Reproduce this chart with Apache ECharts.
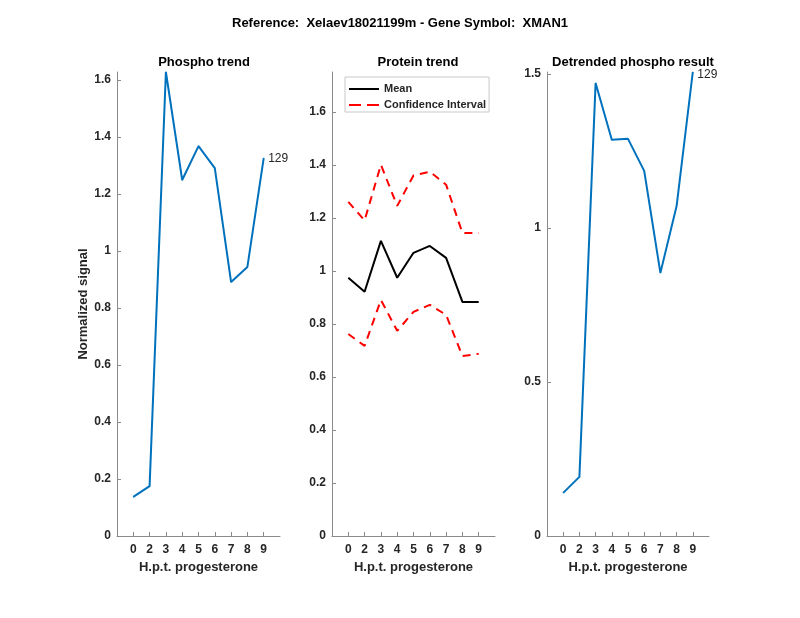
<!DOCTYPE html>
<html>
<head>
<meta charset="utf-8">
<script src="https://cdn.jsdelivr.net/npm/echarts@6/dist/echarts.min.js"></script>
<style>html,body{margin:0;padding:0;background:#fff;}#c{width:800px;height:618px;}</style>
</head>
<body>
<div id="c"></div>
<script>
// ---- data ----
const categories = ['0', '2', '3', '4', '5', '6', '7', '8', '9'];
const phospho = [0.137, 0.175, 1.628, 1.249, 1.368, 1.291, 0.891, 0.944, 1.326];
const proteinMean = [0.974, 0.921, 1.113, 0.974, 1.068, 1.094, 1.049, 0.883, 0.883];
const proteinUpper = [1.26, 1.19, 1.40, 1.245, 1.36, 1.374, 1.325, 1.143, 1.143];
const proteinLower = [0.762, 0.717, 0.89, 0.774, 0.845, 0.872, 0.834, 0.679, 0.687];
const detrended = [0.140, 0.192, 1.47, 1.286, 1.289, 1.185, 0.854, 1.071, 1.506];
const peptideLabel = '129';
const leftTicks = [0, 0.2, 0.4, 0.6, 0.8, 1, 1.2, 1.4, 1.6];
const midTicks = [0, 0.2, 0.4, 0.6, 0.8, 1, 1.2, 1.4, 1.6];
const rightTicks = [0, 0.5, 1, 1.5];
const mainTitle = 'Reference:  Xelaev18021199m - Gene Symbol:  XMAN1';
const panelTitles = ['Phospho trend', 'Protein trend', 'Detrended phospho result'];
const xName = 'H.p.t. progesterone';
const yName = 'Normalized signal';

const FONT = '"Liberation Sans", Arial, Helvetica, sans-serif';
const AXC = '#8a8a8a';
const TXC = '#262626';
const xPos = categories.map((c, i) => i + 1);

function toPts(arr, lastLabel, dy) {
  return arr.map((v, i) => {
    if (lastLabel && i === arr.length - 1) {
      return { value: [xPos[i], v], label: { show: true, position: 'right', distance: 4, offset: [0, dy || 0], formatter: lastLabel,
        fontFamily: FONT, fontSize: 12, color: TXC, fontWeight: 'normal' } };
    }
    return [xPos[i], v];
  });
}

const grids = [
  { left: 117, top: 72, width: 163, height: 464 },
  { left: 332, top: 72, width: 163, height: 464 },
  { left: 547, top: 72, width: 162, height: 464 }
].map(g => Object.assign({ containLabel: false, outerBoundsMode: 'none' }, g));

function xAxis(idx) {
  return {
    gridIndex: idx, type: 'value', min: 0, max: 10,
    name: xName, nameLocation: 'middle', nameGap: 25, nameMoveOverlap: false,
    nameTextStyle: { fontFamily: FONT, fontSize: 13, fontWeight: 'bold', color: TXC },
    axisLine: { show: true, lineStyle: { color: AXC, width: 1 } },
    axisTick: { show: true, inside: true, length: 4, lineStyle: { color: AXC }, customValues: xPos },
    axisLabel: { show: true, customValues: xPos, margin: 8, fontFamily: FONT, fontSize: 12, fontWeight: 'bold', color: TXC,
      formatter: v => categories[Math.round(v) - 1] || '' },
    splitLine: { show: false }
  };
}
function yAxis(idx, max, ticks, name) {
  return {
    gridIndex: idx, type: 'value', min: 0, max: max,
    name: name || '', nameLocation: 'middle', nameGap: 27, nameRotate: 90, nameMoveOverlap: false,
    nameTextStyle: { fontFamily: FONT, fontSize: 13, fontWeight: 'bold', color: TXC },
    axisLine: { show: true, lineStyle: { color: AXC, width: 1 } },
    axisTick: { show: true, inside: true, length: 4, lineStyle: { color: AXC }, customValues: ticks },
    axisLabel: { show: true, customValues: ticks, margin: 6, fontFamily: FONT, fontSize: 12, fontWeight: 'bold', color: TXC,
      formatter: v => String(+(+v).toFixed(2)) },
    splitLine: { show: false }
  };
}

const titleStyle = { fontFamily: FONT, fontSize: 13, fontWeight: 'bold', color: '#000' };
const option = {
  backgroundColor: '#fff',
  animation: false,
  title: [
    { text: mainTitle, left: 'center', top: 12, textStyle: titleStyle },
    { text: panelTitles[0], left: 199, top: 51, textAlign: 'center', textStyle: titleStyle },
    { text: panelTitles[1], left: 413, top: 51, textAlign: 'center', textStyle: titleStyle },
    { text: panelTitles[2], left: 628, top: 51, textAlign: 'center', textStyle: titleStyle }
  ],
  legend: {
    orient: 'vertical', left: 345, top: 77, itemWidth: 30, itemHeight: 2, itemGap: 2,
    padding: [5, 3, 0, 4], backgroundColor: '#fff', borderColor: '#c8c8c8', borderWidth: 1,
    textStyle: { fontFamily: FONT, fontSize: 11, fontWeight: 'bold', color: TXC, lineHeight: 14 },
    data: [
      { name: 'Mean', icon: 'path://M0,0h30v2h-30z' },
      { name: 'Confidence Interval', icon: 'path://M0,0h12v2h-12z M18,0h12v2h-12z' }
    ]
  },
  grid: grids,
  xAxis: [xAxis(0), xAxis(1), xAxis(2)],
  yAxis: [yAxis(0, 1.628, leftTicks, yName), yAxis(1, 1.75, midTicks), yAxis(2, 1.506, rightTicks)],
  series: [
    { type: 'line', xAxisIndex: 0, yAxisIndex: 0, data: toPts(phospho, peptideLabel, 1), symbol: 'circle', symbolSize: 1, showSymbol: true,
      lineStyle: { color: '#0072BD', width: 2 }, itemStyle: { color: '#0072BD' } },
    { name: 'Mean', type: 'line', xAxisIndex: 1, yAxisIndex: 1, data: toPts(proteinMean), symbol: 'none',
      lineStyle: { color: '#000', width: 2 }, itemStyle: { color: '#000' } },
    { name: 'Confidence Interval', type: 'line', xAxisIndex: 1, yAxisIndex: 1, data: toPts(proteinUpper), symbol: 'none',
      lineStyle: { color: '#ff0000', width: 2, type: [8, 6] }, itemStyle: { color: '#ff0000' } },
    { name: 'Confidence Interval', type: 'line', xAxisIndex: 1, yAxisIndex: 1, data: toPts(proteinLower), symbol: 'none',
      lineStyle: { color: '#ff0000', width: 2, type: [8, 6] }, itemStyle: { color: '#ff0000' } },
    { type: 'line', xAxisIndex: 2, yAxisIndex: 2, data: toPts(detrended, peptideLabel, 3), symbol: 'circle', symbolSize: 1, showSymbol: true,
      lineStyle: { color: '#0072BD', width: 2 }, itemStyle: { color: '#0072BD' } }
  ]
};
const chart = echarts.init(document.getElementById('c'), null, { renderer: 'canvas' });
chart.setOption(option);
</script>
</body>
</html>
